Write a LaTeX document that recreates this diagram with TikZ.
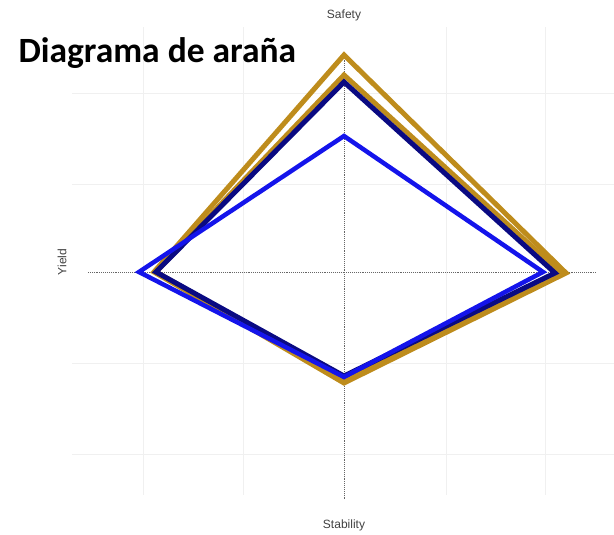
\documentclass[tikz,border=0pt]{standalone}
\usepackage{fontspec}
\setmainfont{Liberation Sans}
\newfontfamily\titlefont{Carlito}
\usetikzlibrary{positioning}
\definecolor{gold}{RGB}{190,140,28}
\definecolor{navyblue}{RGB}{10,10,130}
\definecolor{brightblue}{RGB}{20,20,235}

\begin{document}
\begin{tikzpicture}[x=1pt,y=1pt,line join=miter,
                    grid/.style={draw=black!6,line width=0.8pt},
                    axis/.style={draw=black!60,densely dotted,line width=0.9pt},
                    web/.style={line width=#1},
                    lbl/.style={font=\fontsize{12}{14}\selectfont,text=black!75}]

  \useasboundingbox (-344,-263) rectangle (270,272);

  % grid
  \foreach \x in {-201,-101,102,201}
    \draw[grid] (\x,245) -- (\x,-223);
  \foreach \y in {179,88,-91,-182}
    \draw[grid] (-272,\y) -- (270,\y);

  % axes
  \coordinate (top) at (0,220);
  \coordinate (bot) at (0,-228);
  \coordinate (lft) at (-256,0);
  \coordinate (rgt) at (253,0);
  \draw[axis] (top) -- (bot);
  \draw[axis] (lft) -- (rgt);

  \node[lbl] (safety)    at (0,257)    {Safety};
  \node[lbl] (stability) at (0,-253)   {Stability};
  \node[lbl,rotate=90] (yield) at (-282,10) {Yield};

  \node[anchor=west,font=\titlefont\bfseries\fontsize{35.5}{42}\selectfont]
       (title) at (-329,219) {Diagrama de araña};

  % series
  \coordinate (g1) at (0,217);   \coordinate (g2) at (222,-1);
  \coordinate (g3) at (0,-111);  \coordinate (g4) at (-190,0);
  \coordinate (h1) at (0,197);   \coordinate (h2) at (217,-1);
  \coordinate (h3) at (0,-108);  \coordinate (h4) at (-188,0);
  \coordinate (n1) at (0,190);   \coordinate (n2) at (211,-1);
  \coordinate (n3) at (0,-104);  \coordinate (n4) at (-188,0);
  \coordinate (b1) at (0,136);   \coordinate (b2) at (199,0);
  \coordinate (b3) at (0,-105);  \coordinate (b4) at (-205,0);

  \draw[web=5pt,gold]        (g1) -- (g2) -- (g3) -- (g4) -- cycle;
  \draw[web=5pt,gold]        (h1) -- (h2) -- (h3) -- (h4) -- cycle;
  \draw[web=5pt,navyblue]    (n1) -- (n2) -- (n3) -- (n4) -- cycle;
  \draw[web=4.5pt,brightblue] (b1) -- (b2) -- (b3) -- (b4) -- cycle;
\end{tikzpicture}
\end{document}
